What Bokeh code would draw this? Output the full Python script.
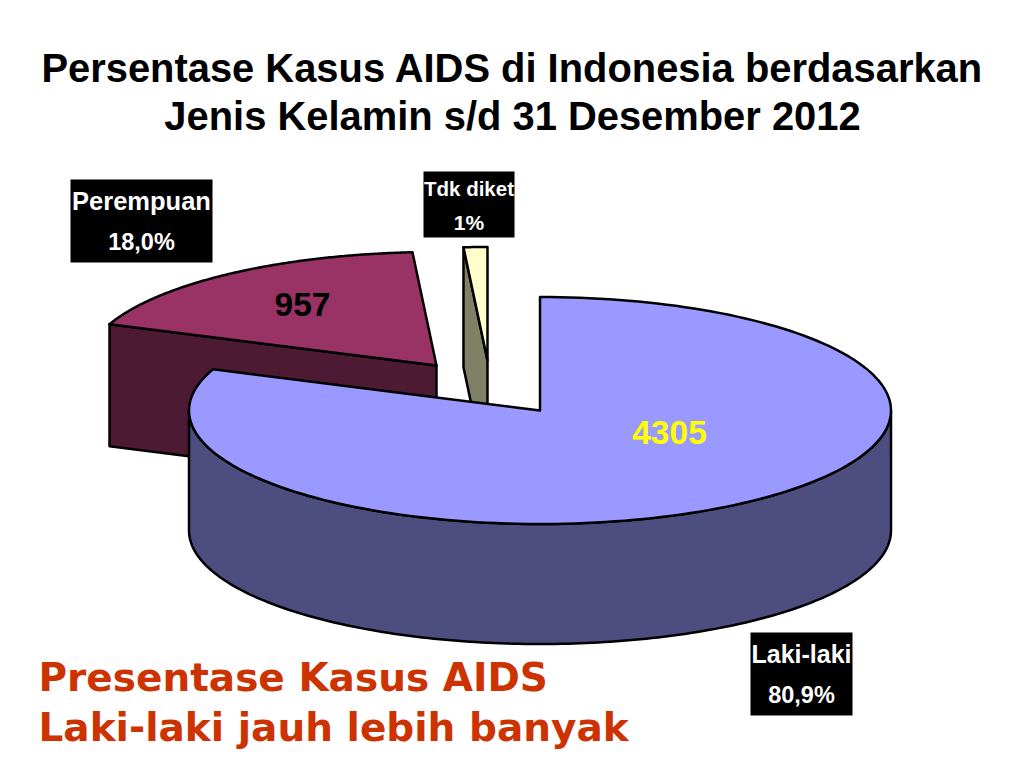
import numpy as np
from bokeh.plotting import figure
from bokeh.models import Range1d
from bokeh.core.properties import value
from bokeh.embed import file_html
from bokeh.resources import INLINE

# ---- data ----
categories = ["Laki-laki", "Perempuan", "Tdk diket"]
counts = [4305, 957, 58]
percent_labels = ["80,9%", "18,0%", "1%"]
title_lines = ["Persentase Kasus AIDS di Indonesia berdasarkan",
               "Jenis Kelamin s/d 31 Desember 2012"]
note_lines = ["Presentase Kasus AIDS", "Laki-laki  jauh lebih banyak"]

# ---- layout of the 3-D pie (page pixels) ----
CX, CY, RX, RY, DEPTH = 539.5, 410.0, 351.0, 113.5, 120.0
OFFSETS = [(0, 0), (-103.5, -45), (-52.5, -50)]
TOP = ["#9999FF", "#993366", "#FFFFCC"]
SIDE = ["#4D4D80", "#4D1A33", "#808066"]
EDGE = "#000000"
LW = 2.5

shares = np.array(counts, dtype=float) / sum(counts)
sweeps = shares * 360.0


def rim(a0, a1, ox, oy, dz=0.0, n=180):
    t = np.radians(np.linspace(a0, a1, n))
    return CX + ox + RX * np.cos(t), CY + oy - RY * np.sin(t) + dz


p = figure(width=1008, height=752, output_backend="svg", toolbar_location=None,
           x_range=Range1d(0, 1008), y_range=Range1d(752, 0),
           min_border=0, outline_line_color=None,
           background_fill_color="#FFFFFF", border_fill_color="#FFFFFF")
p.axis.visible = False
p.grid.visible = False

# angles measured counter-clockwise, the large slice runs clockwise from 90 deg
a_big_start = 90.0
a_big_end = a_big_start - sweeps[0]            # -201 == 159
a_tdk_start = 90.0
a_tdk_end = a_tdk_start + sweeps[2]
a_per_start = a_tdk_end
a_per_end = a_per_start + sweeps[1]


def wedge_top(a0, a1, off, color):
    ox, oy = off
    xs, ys = rim(a0, a1, ox, oy)
    p.patch(np.r_[CX + ox, xs], np.r_[CY + oy, ys], fill_color=color,
            line_color=EDGE, line_width=LW, line_join="round")


def cut_face(angle, off, color, depth=DEPTH):
    ox, oy = off
    xe, ye = rim(angle, angle, ox, oy, n=1)
    ax, ay = CX + ox, CY + oy
    p.patch([xe[0], ax, ax, xe[0]], [ye[0], ay, ay + depth, ye[0] + depth],
            fill_color=color, line_color=EDGE, line_width=LW, line_join="round")


# Perempuan (exploded, behind)
cut_face(a_per_end, OFFSETS[1], SIDE[1], DEPTH + 2)
wedge_top(a_per_start, a_per_end, OFFSETS[1], TOP[1])

# Tdk diket (exploded, behind)
cut_face(a_tdk_end, OFFSETS[2], SIDE[2])
wedge_top(a_tdk_start, a_tdk_end, OFFSETS[2], TOP[2])

# Laki-laki: outer wall then top
xt, yt = rim(180, 360, 0, 0)
p.patch(np.r_[xt, xt[::-1]], np.r_[yt, yt[::-1] + DEPTH], fill_color=SIDE[0],
        line_color=EDGE, line_width=LW, line_join="round")
wedge_top(a_big_end, a_big_start, OFFSETS[0], TOP[0])

# value labels on the slices
p.text([302], [304], text=[str(counts[1])], text_font=value("Liberation Sans"),
       text_font_style="bold", text_font_size="33.5px", text_color="#000000",
       text_align="center", text_baseline="middle")
p.text([669], [432], text=[str(counts[0])], text_font=value("Liberation Sans"),
       text_font_style="bold", text_font_size="33.5px", text_color="#FFFF00",
       text_align="center", text_baseline="middle")

# black category boxes
boxes = [(750, 852, 632, 715, 653, 694), (70, 212, 179, 262, 200, 241), (423, 514, 171, 237, 188, 222)]
name_sizes = ["25px", "25.5px", "20.5px"]
pct_sizes = ["23.5px", "23.5px", "21px"]
for (x0, x1, y0, y1, yl, yp), cat, pct, fs, fp in zip(boxes, categories, percent_labels, name_sizes, pct_sizes):
    p.quad(left=[x0], right=[x1], top=[y0], bottom=[y1], fill_color="#000000", line_color=None)
    xm = (x0 + x1) / 2
    p.text([xm], [yl], text=[cat], text_font=value("Liberation Sans"), text_font_style="bold",
           text_font_size=fs, text_color="#FFFFFF", text_align="center", text_baseline="middle")
    p.text([xm], [yp], text=[pct], text_font=value("Liberation Sans"), text_font_style="bold",
           text_font_size=fp, text_color="#FFFFFF", text_align="center", text_baseline="middle")

# title
for yy, line in zip([67, 115], title_lines):
    p.text([512], [yy], text=[line], text_font=value("Liberation Sans"), text_font_style="bold",
           text_font_size="39.9px", text_color="#000000", text_align="center", text_baseline="middle")

# red note
for yy, line in zip([677, 727], note_lines):
    p.text([38], [yy], text=[line], text_font=value("DejaVu Sans"), text_font_style="bold",
           text_font_size="39px", text_color="#CC3300", text_align="left", text_baseline="middle")

open("out.html", "w").write(file_html(p, INLINE))
